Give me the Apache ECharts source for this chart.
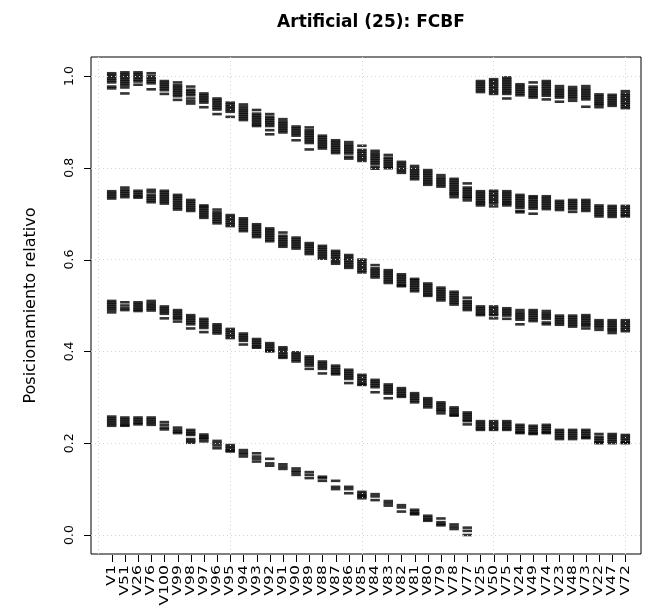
<!DOCTYPE html>
<html>
<head>
<meta charset="utf-8">
<script src="https://cdn.jsdelivr.net/npm/echarts@6/dist/echarts.min.js"></script>
<style>
  html, body { margin: 0; padding: 0; background: #ffffff; }
  #chart { width: 648px; height: 608px; }
</style>
</head>
<body>
<div id="chart"></div>
<script>
// Variables in ranking order along the x axis
const categories = ['V1','V51','V26','V76','V100','V99','V98','V97','V96','V95','V94','V93','V92','V91','V90','V89','V88','V87','V86','V85',
  'V84','V83','V82','V81','V80','V79','V78','V77','V25','V50','V75','V24','V49','V74','V23','V48','V73','V22','V47','V72'];

// y axis tick labels
const yTicks = [0, 0.2, 0.4, 0.6, 0.8, 1.0];
// vertical reference lines (category positions)
const xGrid = [0, 10, 20, 30, 40];

// Relative positions obtained for each variable over the runs, one list per variable.
// Band near 0.97 (only the last twelve variables)
const levelE = [
  [],[],[],[],[],[],[],[],[],[],[],[],[],[],[],[],[],[],[],[],[],[],[],[],[],[],[],[],
  [0.989,0.985,0.981,0.977,0.973,0.969,0.965],
  [0.993,0.989,0.985,0.981,0.977,0.973,0.969,0.965,0.961],
  [0.997,0.993,0.989,0.985,0.981,0.977,0.973,0.969,0.965,0.961,0.951],
  [0.982,0.978,0.974,0.970,0.966,0.962,0.958],
  [0.986,0.977,0.973,0.969,0.965,0.961,0.957,0.953],
  [0.989,0.985,0.981,0.977,0.973,0.969,0.965,0.961,0.957,0.949],
  [0.978,0.973,0.969,0.965,0.961,0.957,0.953,0.944],
  [0.976,0.971,0.967,0.963,0.959,0.955,0.951,0.946],
  [0.978,0.973,0.969,0.965,0.961,0.957,0.953,0.949,0.933],
  [0.960,0.956,0.952,0.948,0.944,0.940,0.937,0.932],
  [0.959,0.955,0.951,0.947,0.943,0.939,0.935],
  [0.967,0.962,0.958,0.954,0.950,0.946,0.942,0.938,0.934,0.930]
];

// Band starting near 1.0
const levelA = [
  [1.006,1.002,0.998,0.994,0.990,0.986,0.977,0.973],
  [1.008,1.004,1.000,0.996,0.992,0.988,0.984,0.980,0.975,0.962],
  [1.008,1.004,1.000,0.996,0.992,0.988,0.981],
  [1.006,1.000,0.996,0.992,0.988,0.984,0.971],
  [0.989,0.985,0.981,0.977,0.973,0.969,0.961],
  [0.986,0.980,0.976,0.972,0.968,0.964,0.960,0.956,0.948],
  [0.977,0.970,0.966,0.962,0.958,0.951,0.945,0.940],
  [0.962,0.958,0.954,0.950,0.946,0.942,0.932],
  [0.951,0.947,0.943,0.939,0.935,0.931,0.927,0.917],
  [0.942,0.938,0.934,0.930,0.926,0.922,0.911],
  [0.938,0.933,0.928,0.924,0.920,0.916,0.912,0.908,0.904],
  [0.926,0.918,0.914,0.910,0.906,0.902,0.898,0.894,0.891],
  [0.917,0.911,0.907,0.903,0.899,0.895,0.891,0.882,0.873],
  [0.906,0.901,0.897,0.893,0.889,0.885,0.881,0.877],
  [0.890,0.886,0.882,0.878,0.874,0.870,0.860],
  [0.888,0.882,0.878,0.874,0.870,0.866,0.862,0.858,0.854,0.840],
  [0.870,0.866,0.862,0.858,0.854,0.850,0.846,0.842],
  [0.860,0.856,0.852,0.848,0.844,0.840,0.836,0.832],
  [0.856,0.851,0.847,0.843,0.839,0.835,0.831,0.824,0.820],
  [0.848,0.839,0.835,0.831,0.827,0.823,0.819,0.815],
  [0.837,0.832,0.828,0.824,0.820,0.816,0.812,0.808,0.802,0.798],
  [0.828,0.822,0.818,0.814,0.810,0.806,0.802,0.799],
  [0.813,0.809,0.805,0.801,0.797,0.793,0.789],
  [0.804,0.799,0.795,0.791,0.787,0.783,0.779,0.775],
  [0.795,0.791,0.787,0.783,0.779,0.775,0.771,0.767,0.763],
  [0.784,0.779,0.775,0.771,0.767,0.763,0.759],
  [0.776,0.772,0.768,0.764,0.760,0.756,0.752,0.748,0.744,0.741,0.736],
  [0.766,0.757,0.753,0.749,0.745,0.741,0.737,0.734,0.729],
  [0.749,0.745,0.741,0.737,0.733,0.729,0.725,0.722,0.718],
  [0.750,0.746,0.742,0.738,0.734,0.730,0.726,0.722,0.716],
  [0.749,0.745,0.741,0.737,0.733,0.729,0.725,0.722,0.718],
  [0.741,0.737,0.733,0.729,0.725,0.721,0.717,0.713,0.706,0.703],
  [0.738,0.735,0.731,0.727,0.723,0.719,0.715,0.711,0.700],
  [0.738,0.734,0.730,0.726,0.722,0.718,0.714,0.710],
  [0.728,0.724,0.720,0.716,0.712,0.708],
  [0.730,0.726,0.722,0.718,0.714,0.710,0.704],
  [0.730,0.726,0.722,0.718,0.714,0.710,0.706],
  [0.718,0.714,0.710,0.706,0.702,0.698,0.694],
  [0.717,0.713,0.709,0.705,0.701,0.697,0.693],
  [0.717,0.713,0.709,0.705,0.701,0.697,0.694]
];

// Band starting near 0.75
const levelB = [
  [0.749,0.745,0.741,0.737,0.733],
  [0.757,0.752,0.748,0.744,0.740,0.736],
  [0.750,0.746,0.742,0.738,0.735],
  [0.752,0.747,0.741,0.737,0.733,0.729,0.725],
  [0.750,0.746,0.742,0.738,0.734,0.730,0.726,0.722],
  [0.741,0.737,0.733,0.729,0.725,0.721,0.717,0.713,0.709],
  [0.730,0.726,0.722,0.718,0.714,0.710,0.706],
  [0.718,0.715,0.711,0.707,0.703,0.699,0.695,0.691],
  [0.709,0.703,0.699,0.695,0.691,0.687,0.683,0.679],
  [0.697,0.693,0.689,0.685,0.681,0.677,0.673],
  [0.690,0.686,0.682,0.678,0.674,0.670,0.666,0.662],
  [0.677,0.673,0.669,0.665,0.661,0.657,0.653,0.649],
  [0.668,0.664,0.660,0.656,0.652,0.648,0.644,0.640],
  [0.659,0.652,0.648,0.644,0.640,0.636,0.632,0.628],
  [0.648,0.644,0.640,0.636,0.632,0.628,0.624],
  [0.636,0.632,0.628,0.624,0.620,0.616,0.612],
  [0.630,0.626,0.622,0.618,0.614,0.610,0.606,0.602],
  [0.619,0.615,0.611,0.607,0.603,0.599,0.595,0.591],
  [0.610,0.606,0.602,0.598,0.594,0.590,0.586,0.582],
  [0.600,0.596,0.592,0.588,0.584,0.580,0.576,0.572],
  [0.588,0.581,0.577,0.573,0.569,0.565,0.561],
  [0.577,0.573,0.569,0.565,0.561,0.557,0.553,0.549],
  [0.568,0.564,0.560,0.556,0.552,0.548,0.544,0.542],
  [0.558,0.555,0.551,0.547,0.543,0.539,0.535,0.531],
  [0.548,0.544,0.540,0.536,0.532,0.528,0.524,0.521],
  [0.539,0.535,0.531,0.527,0.523,0.519,0.515,0.511],
  [0.530,0.526,0.522,0.518,0.514,0.510,0.506,0.502],
  [0.517,0.510,0.506,0.502,0.498,0.494,0.490],
  [0.498,0.494,0.490,0.486,0.482,0.479],
  [0.498,0.494,0.490,0.486,0.482,0.479,0.472],
  [0.494,0.490,0.486,0.482,0.478,0.471],
  [0.490,0.485,0.481,0.477,0.473,0.469,0.459],
  [0.490,0.486,0.482,0.478,0.474,0.470,0.466],
  [0.488,0.483,0.479,0.475,0.471,0.463,0.459],
  [0.478,0.474,0.470,0.466,0.462,0.458],
  [0.478,0.474,0.470,0.466,0.462,0.458,0.454],
  [0.479,0.475,0.471,0.467,0.463,0.459,0.456,0.450],
  [0.468,0.464,0.460,0.456,0.452,0.447],
  [0.468,0.464,0.460,0.456,0.452,0.448,0.445,0.440],
  [0.468,0.464,0.460,0.456,0.452,0.448,0.444]
];

// Band starting near 0.5
const levelC = [
  [0.510,0.506,0.502,0.498,0.494,0.490,0.485],
  [0.507,0.500,0.494,0.490],
  [0.507,0.503,0.499,0.495,0.491,0.488],
  [0.510,0.505,0.501,0.497,0.493,0.489],
  [0.498,0.494,0.490,0.486,0.482,0.472],
  [0.490,0.486,0.482,0.478,0.474,0.471,0.465],
  [0.479,0.475,0.471,0.467,0.463,0.459,0.450],
  [0.471,0.467,0.463,0.459,0.455,0.451,0.442],
  [0.459,0.455,0.451,0.447,0.443,0.439],
  [0.449,0.445,0.441,0.437,0.433,0.429],
  [0.439,0.435,0.431,0.427,0.423,0.415],
  [0.427,0.423,0.419,0.415,0.411,0.408],
  [0.418,0.414,0.410,0.406,0.402,0.400],
  [0.409,0.405,0.401,0.397,0.393,0.389,0.386],
  [0.398,0.394,0.390,0.386,0.382,0.378],
  [0.389,0.385,0.381,0.377,0.373,0.369,0.362],
  [0.378,0.374,0.370,0.366,0.362,0.352],
  [0.369,0.365,0.361,0.357,0.353,0.350],
  [0.360,0.356,0.352,0.348,0.344,0.340,0.331],
  [0.349,0.345,0.341,0.337,0.333,0.329,0.327],
  [0.338,0.334,0.330,0.326,0.322,0.311],
  [0.328,0.324,0.320,0.316,0.312,0.308,0.298],
  [0.320,0.316,0.312,0.308,0.304,0.301],
  [0.309,0.305,0.301,0.297,0.293,0.289],
  [0.298,0.294,0.290,0.286,0.282,0.278],
  [0.289,0.285,0.281,0.277,0.273,0.270,0.265],
  [0.278,0.274,0.270,0.266,0.262,0.260],
  [0.267,0.263,0.259,0.255,0.251,0.248,0.241],
  [0.248,0.244,0.240,0.236,0.232,0.229],
  [0.248,0.244,0.240,0.236,0.232,0.229],
  [0.248,0.244,0.240,0.236,0.232,0.229],
  [0.240,0.236,0.232,0.228,0.224,0.222],
  [0.238,0.234,0.230,0.226,0.222,0.220],
  [0.240,0.236,0.232,0.228,0.224,0.222],
  [0.229,0.225,0.221,0.217,0.213,0.209],
  [0.229,0.225,0.221,0.217,0.213,0.209],
  [0.229,0.225,0.221,0.217,0.213,0.211],
  [0.220,0.214,0.210,0.206,0.202,0.200],
  [0.220,0.216,0.212,0.208,0.204,0.200],
  [0.218,0.214,0.210,0.206,0.202,0.200]
];

// Band starting near 0.25 (first twenty-eight variables)
const levelD = [
  [0.258,0.254,0.250,0.246,0.242,0.238],
  [0.256,0.252,0.248,0.244,0.240,0.238],
  [0.256,0.252,0.248,0.244,0.241],
  [0.256,0.252,0.248,0.244,0.240],
  [0.246,0.240,0.234,0.230],
  [0.234,0.229,0.225,0.222],
  [0.229,0.225,0.221,0.218,0.209,0.205,0.201],
  [0.219,0.215,0.212,0.209,0.204],
  [0.205,0.200,0.195,0.189],
  [0.196,0.192,0.188,0.184,0.182],
  [0.185,0.180,0.176,0.171],
  [0.178,0.171,0.166,0.160],
  [0.166,0.156,0.151],
  [0.154,0.149,0.144],
  [0.145,0.140,0.136,0.131],
  [0.137,0.131,0.124],
  [0.127,0.124,0.118],
  [0.118,0.105,0.100],
  [0.105,0.100,0.091],
  [0.094,0.090,0.086,0.084,0.080],
  [0.089,0.084,0.076],
  [0.074,0.069,0.064],
  [0.065,0.060,0.051],
  [0.055,0.051,0.047,0.045],
  [0.042,0.038,0.034,0.031],
  [0.036,0.028,0.024,0.021],
  [0.023,0.018,0.013],
  [0.016,0.009,0.000],
  [],[],[],[],[],[],[],[],[],[],[],[]
];

const FONT = 'DejaVu Sans';
const X_MIN = -0.57;
const X_MAX = 41.19;
const Y_MIN = -0.0414;
const Y_MAX = 1.0414;
const TICK_LEN = 7;

// Turn per-variable value lists into [position, value] pairs on the value axis
function toPoints(level) {
  const pts = [];
  level.forEach((vals, i) => vals.forEach(v => pts.push([i + 1, v])));
  return pts;
}

const dashSeries = [levelE, levelA, levelB, levelC, levelD].map((lvl, k) => ({
  name: 'band' + k,
  type: 'scatter',
  data: toPoints(lvl),
  symbol: 'rect',
  symbolSize: [9.5, 2.6],
  itemStyle: { color: '#000000' },
  silent: true,
  z: 3
}));

// Dotted reference grid drawn over the dashes
const gridLines = {
  name: 'grid',
  type: 'line',
  data: [],
  silent: true,
  z: 6,
  markLine: {
    silent: true,
    symbol: 'none',
    animation: false,
    label: { show: false },
    lineStyle: { color: '#d3d3d3', type: [1, 3], width: 1 },
    data: xGrid.map(v => ({ xAxis: v })).concat(yTicks.map(v => ({ yAxis: v })))
  }
};

// Vertical variable names under the plot, slightly stretched along the reading direction
const xNames = {
  name: 'names',
  type: 'custom',
  silent: true,
  clip: false,
  z: 8,
  data: categories.map((c, i) => [i + 1, Y_MIN]),
  encode: { x: 0, y: 1 },
  renderItem: (params, api) => {
    const p = api.coord([api.value(0), Y_MIN]);
    return {
      type: 'text',
      x: p[0],
      y: p[1] + 11,
      rotation: Math.PI / 2,
      scaleX: 1.25,
      style: {
        text: categories[params.dataIndex],
        fontFamily: FONT,
        fontSize: 12.5,
        fill: '#000',
        align: 'right',
        verticalAlign: 'middle'
      }
    };
  }
};

const chart = echarts.init(document.getElementById('chart'), null, { renderer: 'canvas' });
chart.setOption({
  animation: false,
  backgroundColor: '#ffffff',
  title: {
    text: 'Artificial (25): FCBF',
    left: 366,
    textAlign: 'center',
    top: 9,
    textStyle: { fontFamily: FONT, fontSize: 17, fontWeight: 'bold', color: '#000' }
  },
  grid: {
    left: 91, right: 7, top: 57, bottom: 54,
    show: true, borderColor: '#000', borderWidth: 1, backgroundColor: 'transparent'
  },
  xAxis: {
    type: 'value',
    min: X_MIN,
    max: X_MAX,
    axisLine: { show: false, onZero: false },
    splitLine: { show: false },
    axisTick: { show: false },
    axisLabel: { show: false }
  },
  yAxis: {
    type: 'value',
    min: Y_MIN,
    max: Y_MAX,
    name: 'Posicionamiento relativo',
    nameLocation: 'middle',
    nameRotate: 90,
    nameGap: 52,
    nameTextStyle: { fontFamily: FONT, fontSize: 16, color: '#000' },
    axisLine: { show: false, onZero: false },
    splitLine: { show: false },
    axisTick: { show: false },
    axisLabel: {
      show: true, rotate: 90, margin: 15,
      fontFamily: FONT, fontSize: 12.5, color: '#000',
      customValues: yTicks,
      formatter: v => v.toFixed(1)
    }
  },
  series: dashSeries.concat([gridLines, xNames])
});

// Outward tick marks at every variable and at each labelled y value,
// positioned through the chart's own coordinate conversion
const tickMarks = [];
categories.forEach((c, i) => {
  const p = chart.convertToPixel({ gridIndex: 0 }, [i + 1, Y_MIN]);
  tickMarks.push({
    type: 'rect', silent: true, z: 100,
    shape: { x: Math.round(p[0]), y: Math.round(p[1]) + 1, width: 1, height: TICK_LEN },
    style: { fill: '#000000' }
  });
});
yTicks.forEach(v => {
  const p = chart.convertToPixel({ gridIndex: 0 }, [X_MIN, v]);
  tickMarks.push({
    type: 'rect', silent: true, z: 100,
    shape: { x: Math.round(p[0]) - TICK_LEN, y: Math.round(p[1]), width: TICK_LEN, height: 1 },
    style: { fill: '#000000' }
  });
});
chart.setOption({ graphic: { elements: tickMarks } });
</script>
</body>
</html>
